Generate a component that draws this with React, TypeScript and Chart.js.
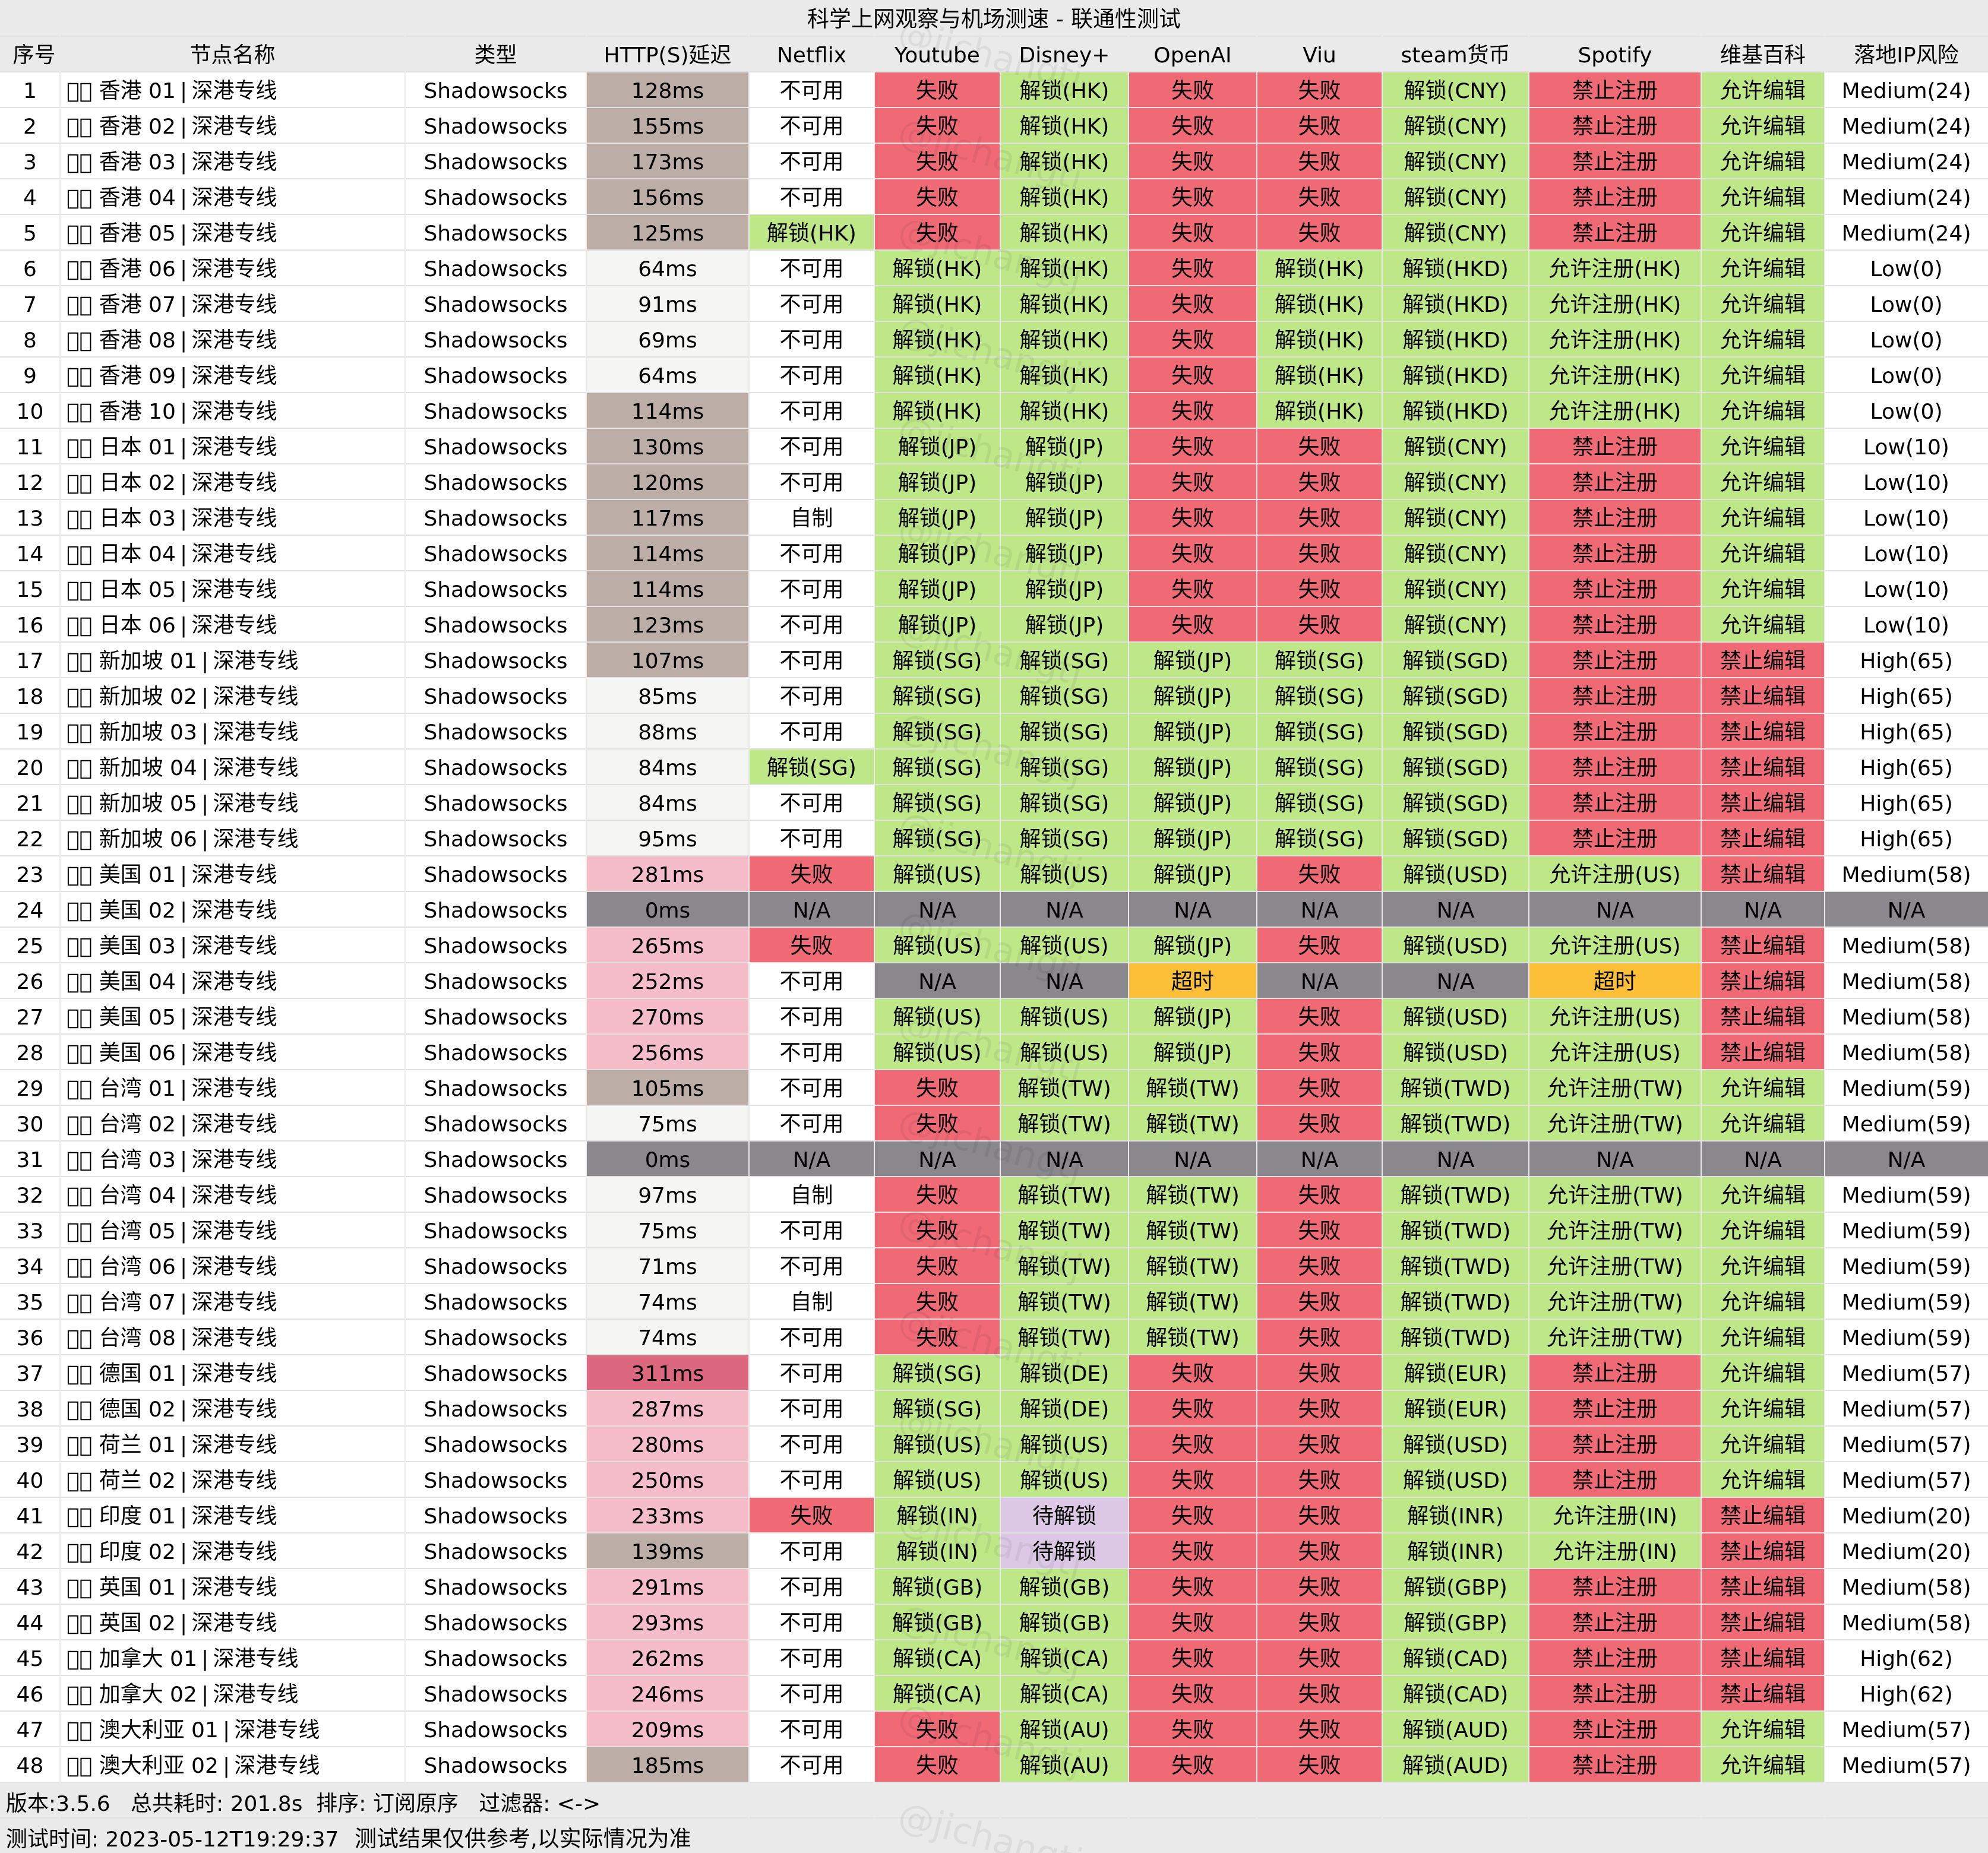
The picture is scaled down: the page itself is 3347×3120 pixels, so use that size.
import React, { useEffect, useRef } from "react";
import { Chart, registerables, Plugin } from "chart.js";

Chart.register(...registerables);

const title = "科学上网观察与机场测速 - 联通性测试";
const footerLine1 = "版本:3.5.6   总共耗时: 201.8s  排序: 订阅原序   过滤器: <->";
const footerLine2 = "测试时间: 2023-05-12T19:29:37";
const footerNote = "测试结果仅供参考,以实际情况为准";
const watermark = "@jichangtj";

const headers = ["序号", "节点名称", "类型", "HTTP(S)延迟", "Netflix", "Youtube", "Disney+", "OpenAI", "Viu", "steam货币", "Spotify", "维基百科", "落地IP风险"];

// the flags show up as two empty boxes in the reference, the separator spaces are narrow there
const nodeNames = [
  "\uE000\uE000 香港 01\u2009|\u2009深港专线", "\uE000\uE000 香港 02\u2009|\u2009深港专线", "\uE000\uE000 香港 03\u2009|\u2009深港专线", "\uE000\uE000 香港 04\u2009|\u2009深港专线",
  "\uE000\uE000 香港 05\u2009|\u2009深港专线", "\uE000\uE000 香港 06\u2009|\u2009深港专线", "\uE000\uE000 香港 07\u2009|\u2009深港专线", "\uE000\uE000 香港 08\u2009|\u2009深港专线",
  "\uE000\uE000 香港 09\u2009|\u2009深港专线", "\uE000\uE000 香港 10\u2009|\u2009深港专线",
  "\uE000\uE000 日本 01\u2009|\u2009深港专线", "\uE000\uE000 日本 02\u2009|\u2009深港专线", "\uE000\uE000 日本 03\u2009|\u2009深港专线",
  "\uE000\uE000 日本 04\u2009|\u2009深港专线", "\uE000\uE000 日本 05\u2009|\u2009深港专线", "\uE000\uE000 日本 06\u2009|\u2009深港专线",
  "\uE000\uE000 新加坡 01\u2009|\u2009深港专线", "\uE000\uE000 新加坡 02\u2009|\u2009深港专线", "\uE000\uE000 新加坡 03\u2009|\u2009深港专线",
  "\uE000\uE000 新加坡 04\u2009|\u2009深港专线", "\uE000\uE000 新加坡 05\u2009|\u2009深港专线", "\uE000\uE000 新加坡 06\u2009|\u2009深港专线",
  "\uE000\uE000 美国 01\u2009|\u2009深港专线", "\uE000\uE000 美国 02\u2009|\u2009深港专线", "\uE000\uE000 美国 03\u2009|\u2009深港专线",
  "\uE000\uE000 美国 04\u2009|\u2009深港专线", "\uE000\uE000 美国 05\u2009|\u2009深港专线", "\uE000\uE000 美国 06\u2009|\u2009深港专线",
  "\uE000\uE000 台湾 01\u2009|\u2009深港专线", "\uE000\uE000 台湾 02\u2009|\u2009深港专线", "\uE000\uE000 台湾 03\u2009|\u2009深港专线", "\uE000\uE000 台湾 04\u2009|\u2009深港专线",
  "\uE000\uE000 台湾 05\u2009|\u2009深港专线", "\uE000\uE000 台湾 06\u2009|\u2009深港专线", "\uE000\uE000 台湾 07\u2009|\u2009深港专线", "\uE000\uE000 台湾 08\u2009|\u2009深港专线",
  "\uE000\uE000 德国 01\u2009|\u2009深港专线", "\uE000\uE000 德国 02\u2009|\u2009深港专线", "\uE000\uE000 荷兰 01\u2009|\u2009深港专线", "\uE000\uE000 荷兰 02\u2009|\u2009深港专线",
  "\uE000\uE000 印度 01\u2009|\u2009深港专线", "\uE000\uE000 印度 02\u2009|\u2009深港专线", "\uE000\uE000 英国 01\u2009|\u2009深港专线", "\uE000\uE000 英国 02\u2009|\u2009深港专线",
  "\uE000\uE000 加拿大 01\u2009|\u2009深港专线", "\uE000\uE000 加拿大 02\u2009|\u2009深港专线", "\uE000\uE000 澳大利亚 01\u2009|\u2009深港专线", "\uE000\uE000 澳大利亚 02\u2009|\u2009深港专线",
];

const delays = [
  128, 155, 173, 156, 125, 64, 91, 69, 64, 114, 130, 120, 117, 114, 114, 123,
  107, 85, 88, 84, 84, 95, 281, 0, 265, 252, 270, 256, 105, 75, 0, 97,
  75, 71, 74, 74, 311, 287, 280, 250, 233, 139, 291, 293, 262, 246, 209, 185,
];

const NO = "不可用", SELF = "自制", FAIL = "失败", NA = "N/A", TIMEOUT = "超时", WAIT = "待解锁";
const HK = "解锁(HK)", JP = "解锁(JP)", SG = "解锁(SG)", US = "解锁(US)", TW = "解锁(TW)";
const DE = "解锁(DE)", IN = "解锁(IN)", GB = "解锁(GB)", CA = "解锁(CA)", AU = "解锁(AU)";

const netflix = [
  NO, NO, NO, NO, HK, NO, NO, NO, NO, NO, NO, NO, SELF, NO, NO, NO,
  NO, NO, NO, SG, NO, NO, FAIL, NA, FAIL, NO, NO, NO, NO, NO, NA, SELF,
  NO, NO, SELF, NO, NO, NO, NO, NO, FAIL, NO, NO, NO, NO, NO, NO, NO,
];
const youtube = [
  FAIL, FAIL, FAIL, FAIL, FAIL, HK, HK, HK, HK, HK, JP, JP, JP, JP, JP, JP,
  SG, SG, SG, SG, SG, SG, US, NA, US, NA, US, US, FAIL, FAIL, NA, FAIL,
  FAIL, FAIL, FAIL, FAIL, SG, SG, US, US, IN, IN, GB, GB, CA, CA, FAIL, FAIL,
];
const disney = [
  HK, HK, HK, HK, HK, HK, HK, HK, HK, HK, JP, JP, JP, JP, JP, JP,
  SG, SG, SG, SG, SG, SG, US, NA, US, NA, US, US, TW, TW, NA, TW,
  TW, TW, TW, TW, DE, DE, US, US, WAIT, WAIT, GB, GB, CA, CA, AU, AU,
];
const openai = [
  FAIL, FAIL, FAIL, FAIL, FAIL, FAIL, FAIL, FAIL, FAIL, FAIL, FAIL, FAIL, FAIL, FAIL, FAIL, FAIL,
  JP, JP, JP, JP, JP, JP, JP, NA, JP, TIMEOUT, JP, JP, TW, TW, NA, TW,
  TW, TW, TW, TW, FAIL, FAIL, FAIL, FAIL, FAIL, FAIL, FAIL, FAIL, FAIL, FAIL, FAIL, FAIL,
];
const viu = [
  FAIL, FAIL, FAIL, FAIL, FAIL, HK, HK, HK, HK, HK, FAIL, FAIL, FAIL, FAIL, FAIL, FAIL,
  SG, SG, SG, SG, SG, SG, FAIL, NA, FAIL, NA, FAIL, FAIL, FAIL, FAIL, NA, FAIL,
  FAIL, FAIL, FAIL, FAIL, FAIL, FAIL, FAIL, FAIL, FAIL, FAIL, FAIL, FAIL, FAIL, FAIL, FAIL, FAIL,
];

const CNY = "解锁(CNY)", HKD = "解锁(HKD)", SGD = "解锁(SGD)", USD = "解锁(USD)", TWD = "解锁(TWD)";
const EUR = "解锁(EUR)", INR = "解锁(INR)", GBP = "解锁(GBP)", CAD = "解锁(CAD)", AUD = "解锁(AUD)";
const steam = [
  CNY, CNY, CNY, CNY, CNY, HKD, HKD, HKD, HKD, HKD, CNY, CNY, CNY, CNY, CNY, CNY,
  SGD, SGD, SGD, SGD, SGD, SGD, USD, NA, USD, NA, USD, USD, TWD, TWD, NA, TWD,
  TWD, TWD, TWD, TWD, EUR, EUR, USD, USD, INR, INR, GBP, GBP, CAD, CAD, AUD, AUD,
];

const BAN = "禁止注册", RHK = "允许注册(HK)", RUS = "允许注册(US)", RTW = "允许注册(TW)", RIN = "允许注册(IN)";
const spotify = [
  BAN, BAN, BAN, BAN, BAN, RHK, RHK, RHK, RHK, RHK, BAN, BAN, BAN, BAN, BAN, BAN,
  BAN, BAN, BAN, BAN, BAN, BAN, RUS, NA, RUS, TIMEOUT, RUS, RUS, RTW, RTW, NA, RTW,
  RTW, RTW, RTW, RTW, BAN, BAN, BAN, BAN, RIN, RIN, BAN, BAN, BAN, BAN, BAN, BAN,
];

const EDIT = "允许编辑", NOEDIT = "禁止编辑";
const wiki = [
  EDIT, EDIT, EDIT, EDIT, EDIT, EDIT, EDIT, EDIT, EDIT, EDIT, EDIT, EDIT, EDIT, EDIT, EDIT, EDIT,
  NOEDIT, NOEDIT, NOEDIT, NOEDIT, NOEDIT, NOEDIT, NOEDIT, NA, NOEDIT, NOEDIT, NOEDIT, NOEDIT, EDIT, EDIT, NA, EDIT,
  EDIT, EDIT, EDIT, EDIT, EDIT, EDIT, EDIT, EDIT, NOEDIT, NOEDIT, NOEDIT, NOEDIT, NOEDIT, NOEDIT, EDIT, EDIT,
];

const M24 = "Medium(24)", L0 = "Low(0)", L10 = "Low(10)", H65 = "High(65)", M58 = "Medium(58)", M59 = "Medium(59)";
const M57 = "Medium(57)", M20 = "Medium(20)", H62 = "High(62)";
const risk = [
  M24, M24, M24, M24, M24, L0, L0, L0, L0, L0, L10, L10, L10, L10, L10, L10,
  H65, H65, H65, H65, H65, H65, M58, NA, M58, M58, M58, M58, M59, M59, NA, M59,
  M59, M59, M59, M59, M57, M57, M57, M57, M20, M20, M58, M58, H62, H62, M57, M57,
];

// table layout, in canvas pixels
const WIDTH = 3347;
const columnWidths = [101, 581, 305, 274, 211, 212, 216, 216, 211, 247, 290, 208, 275];
const ROW = 60;

const FONT = '36px "DejaVu Sans", "Noto Sans CJK SC", sans-serif';
const WIDE_FONT = '37px "DejaVu Sans", "Noto Sans CJK SC", sans-serif';
const BG = "#eaeaea";
const LINE = "#e1e1e1";

const cellColor = (text: string) => {
  if (text === NA) return "#8a878d";
  if (text === TIMEOUT) return "#fcc038";
  if (text === WAIT) return "#dcc8e4";
  if (text === FAIL || text === BAN || text === NOEDIT) return "#f06a76";
  if (text.startsWith("解锁") || text.startsWith("允许")) return "#bee787";
  return "#ffffff";
};

const delayColor = (ms: number) => {
  if (ms === 0) return "#8a878d";
  if (ms < 100) return "#f5f5f3";
  if (ms < 200) return "#bcaea6";
  if (ms < 300) return "#f5bcc9";
  return "#dc6880";
};

const columns: string[][] = [
  delays.map((_, i) => String(i + 1)),
  nodeNames,
  delays.map(() => "Shadowsocks"),
  delays.map((d) => `${d}ms`),
  netflix, youtube, disney, openai, viu, steam, spotify, wiki, risk,
];

// first band is the title, then the header, 48 nodes and 2 footer lines
const rowLabels = ["title", "header", ...delays.map((_, i) => String(i + 1)), "footer1", "footer2"];

const tablePlugin: Plugin<"bar"> = {
  id: "tableText",
  afterDraw(chart) {
    const { ctx, scales } = chart;
    const { x, y } = scales;
    ctx.save();
    ctx.textBaseline = "alphabetic";

    ctx.font = '60px "DejaVu Sans", sans-serif';
    ctx.fillStyle = "rgba(0,0,0,0.06)";
    ctx.textAlign = "left";
    for (let i = 0; i < 19; i++) {
      ctx.save();
      ctx.translate(x.getPixelForValue(1509), 72 + i * 166.8);
      ctx.rotate((15 * Math.PI) / 180);
      ctx.fillText(watermark, 0, 0);
      ctx.restore();
    }

    ctx.font = FONT;
    ctx.fillStyle = "#000000";

    columns.forEach((cells, c) => {
      const meta = chart.getDatasetMeta(c);
      [headers[c], ...cells].forEach((text, r) => {
        const el: any = meta.data[r + 1];
        const left = c === 1 && r > 0;
        // the first header sits a little right of its column's centre
        const shift = c === 0 && r === 0 ? 7 : 0;
        ctx.textAlign = left ? "left" : "center";
        ctx.fillText(text, left ? el.base + 11 : el.x - (el.x - el.base) / 2 + shift, el.y + 14);
      });
    });

    ctx.textAlign = "left";
    ctx.fillText(footerLine1, 10, y.getPixelForValue(50) + 18);
    ctx.fillText(footerLine2, 10, y.getPixelForValue(51) + 18);

    ctx.font = WIDE_FONT;
    ctx.fillText(footerNote, 597, y.getPixelForValue(51) + 18);
    ctx.textAlign = "center";
    ctx.fillText(title, x.getPixelForValue(WIDTH / 2), y.getPixelForValue(0) + 14);
    ctx.restore();
  },
};

export default function App() {
  const canvasRef = useRef<HTMLCanvasElement | null>(null);

  useEffect(() => {
    if (!canvasRef.current) return;

    const edges = columnWidths.slice(0, -1).map((_, i) => columnWidths.slice(0, i + 1).reduce((a, b) => a + b, 0));

    const chart = new Chart(canvasRef.current, {
      type: "bar",
      data: {
        labels: rowLabels,
        datasets: columns.map((cells, c) => ({
          label: headers[c],
          data: rowLabels.map((_, r) => (r === 0 || r > 49 ? null : columnWidths[c])),
          backgroundColor: rowLabels.map((_, r) => {
            if (r < 2 || r > 49) return BG;
            if (c === 3) return delayColor(delays[r - 2]);
            return c < 3 ? "#ffffff" : cellColor(cells[r - 2]);
          }),
          barPercentage: 58 / 60,
          categoryPercentage: 1,
          borderWidth: 0,
          inflateAmount: 0,
        })),
      },
      options: {
        indexAxis: "y",
        responsive: false,
        animation: false,
        devicePixelRatio: 1,
        layout: { padding: { top: 1, left: 0, right: 0, bottom: 0 } },
        events: [],
        plugins: { legend: { display: false }, tooltip: { enabled: false }, title: { display: false } },
        scales: {
          x: {
            type: "linear",
            stacked: true,
            min: 0,
            max: WIDTH,
            position: "top",
            afterBuildTicks: (scale) => {
              scale.ticks = edges.map((value) => ({ value }));
            },
            afterFit: (scale) => {
              scale.height = 0;
            },
            ticks: { display: false },
            border: { display: false },
            grid: { color: BG, lineWidth: 2, drawTicks: false, z: 1 },
          },
          y: {
            type: "category",
            stacked: true,
            afterFit: (scale) => {
              scale.width = 0;
            },
            ticks: { display: false },
            border: { display: false },
            grid: {
              offset: true,
              drawTicks: false,
              lineWidth: 2,
              color: (ctx) => (ctx.index === 0 ? "transparent" : LINE),
            },
          },
        },
      },
      plugins: [tablePlugin],
    });

    return () => chart.destroy();
  }, []);

  return (
    <div style={{ position: "absolute", left: 0, top: 0, width: WIDTH, height: ROW * 52, overflow: "hidden", background: BG }}>
      <canvas ref={canvasRef} width={WIDTH} height={ROW * 52 + 1} style={{ display: "block" }} />
    </div>
  );
}
